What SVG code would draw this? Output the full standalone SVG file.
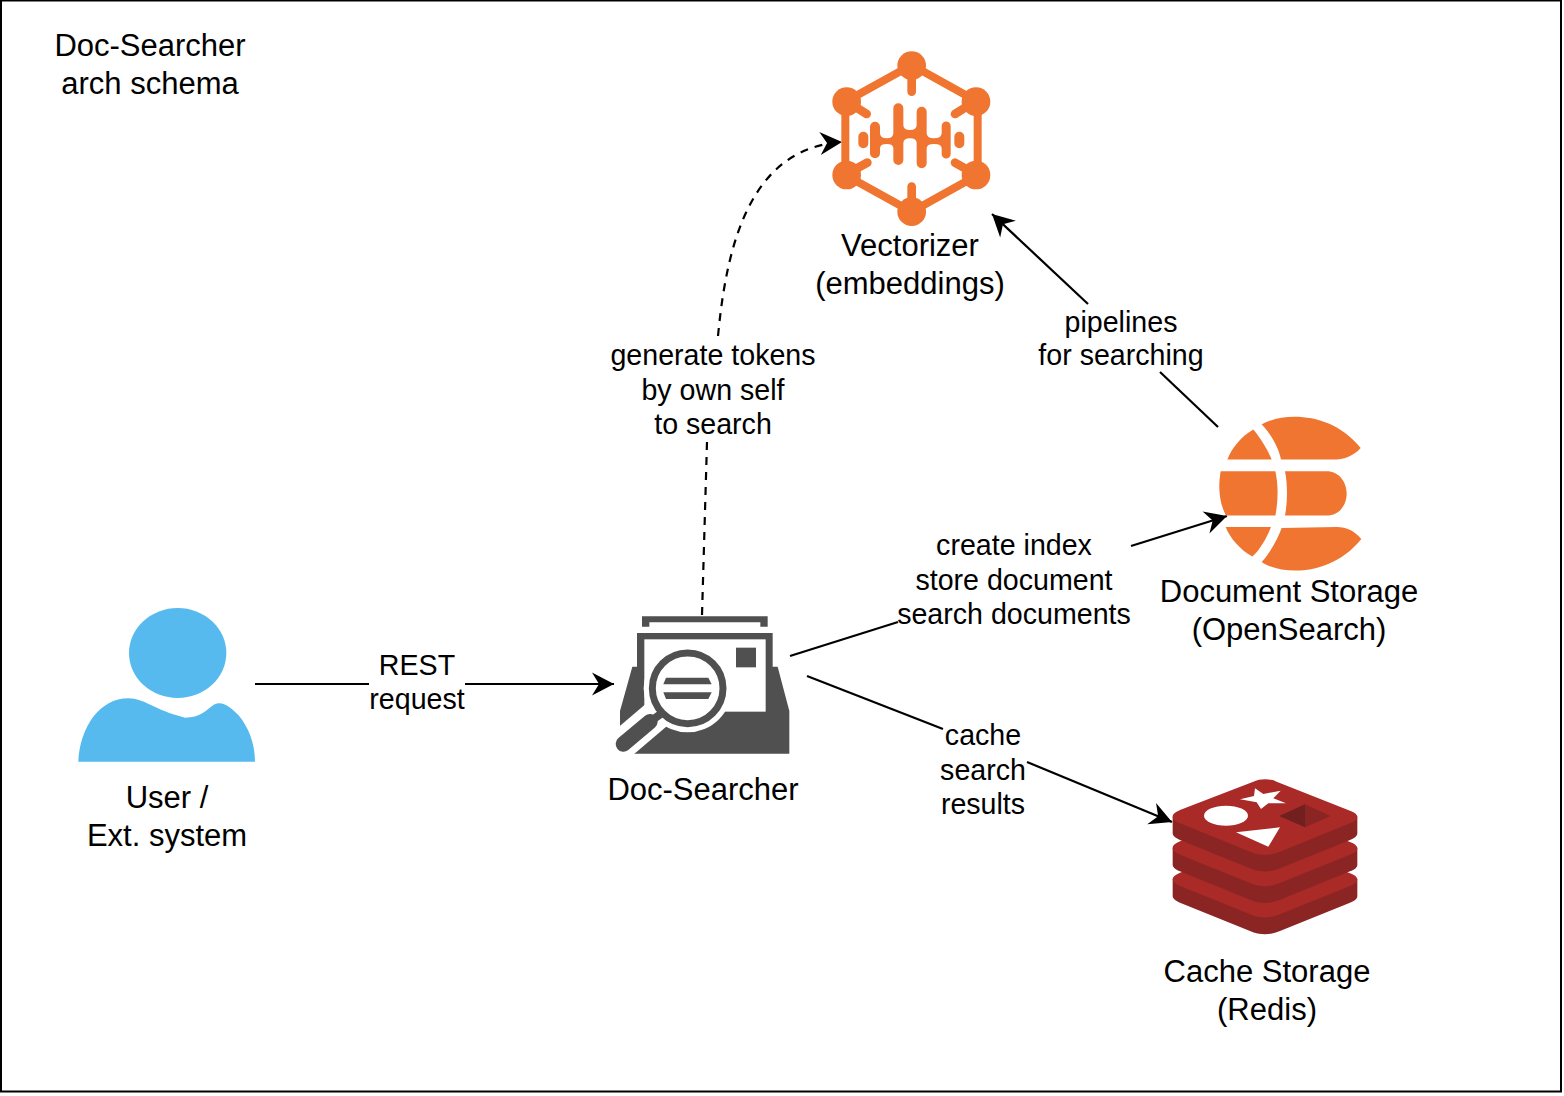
<svg xmlns="http://www.w3.org/2000/svg" xmlns:xlink="http://www.w3.org/1999/xlink" width="1564" height="1096" viewBox="0 0 1564 1096">
<style>
text{font-family:"Liberation Sans",Arial,sans-serif;fill:#000;text-anchor:middle}
.n{font-size:31px}
.e{font-size:28.6px}
.c{fill:none;stroke:#000;stroke-width:2.2}
.d{stroke-dasharray:8 7}
.o{fill:#F07530}
.os{fill:none;stroke:#F07530;stroke-linecap:round}
.g{fill:#505050}
.w{fill:#fff}
</style>
<defs>
<marker id="arrow" markerUnits="userSpaceOnUse" markerWidth="26" markerHeight="26" viewBox="0 0 26 26" refX="23" refY="13" orient="auto">
<path d="M1,1.5 L23,13 L1,24.5 L8,13 Z" fill="#000"/>
</marker>
<g id="layer">
<path d="M38,140 L38,190 C38,198 48,205 60,210 L270,295 C300,308 330,308 360,295 L570,210 C584,205 592,198 592,190 L592,140 Z" fill="#8A2524"/>
<path d="M38,140 C38,130 50,125 60,120 L280,35 C300,25 330,25 350,35 L570,122 C586,128 592,135 592,140 C592,150 582,155 570,160 L360,245 C330,258 300,258 270,245 L60,160 C48,155 38,148 38,140 Z" fill="#A92A27"/>
</g>
</defs>
<rect x="1" y="0.5" width="1560" height="1091" fill="#fff" stroke="#000" stroke-width="2"/>
<text class="n" x="150" y="56">Doc-Searcher</text>
<text class="n" x="150" y="94">arch schema</text>
<g id="connectors">
<path class="c" d="M255,684 L369,684"/>
<path class="c" d="M465,684 L614,684" marker-end="url(#arrow)"/>
<path class="c d" d="M702,615 L707,442"/>
<path class="c d" d="M718,336 C727,240 752,148 842,142" marker-end="url(#arrow)"/>
<path class="c" d="M790,656 L898,622"/>
<path class="c" d="M1131,546 L1227,516" marker-end="url(#arrow)"/>
<path class="c" d="M807,676 L943,729"/>
<path class="c" d="M1027,762 L1172,822" marker-end="url(#arrow)"/>
<path class="c" d="M1218,427 L1160,372"/>
<path class="c" d="M1088,304 L992,214" marker-end="url(#arrow)"/>
<text class="e" x="417" y="674.7">REST</text>
<text class="e" x="417" y="708.7">request</text>
<text class="e" x="713" y="364.7">generate tokens</text>
<text class="e" x="713" y="399.7">by own self</text>
<text class="e" x="713" y="433.7">to search</text>
<text class="e" x="1014" y="554.7">create index</text>
<text class="e" x="1014" y="589.7">store document</text>
<text class="e" x="1014" y="623.7">search documents</text>
<text class="e" x="983" y="744.7">cache</text>
<text class="e" x="983" y="779.7">search</text>
<text class="e" x="983" y="813.7">results</text>
<text class="e" x="1121" y="331.7">pipelines</text>
<text class="e" x="1121" y="364.7">for searching</text>
</g>
<g id="user">
<g transform="translate(70,600) scale(.33333)" fill="#56BAEE">
<ellipse cx="323" cy="159" rx="146" ry="135"/>
<path d="M25,485 C30,380 90,295 175,295 C225,295 250,330 345,353 C390,353 410,330 430,315 C455,300 480,320 505,345 C535,380 555,430 555,485 Z"/>
</g>
<text class="n" x="167" y="808">User /</text>
<text class="n" x="167" y="846">Ext. system</text>
</g>
<g id="doc-searcher">
<g transform="translate(600,605) scale(.33333)">
<path class="g" d="M126,34 H503 V65 H481 V52 H148 V65 H126 Z"/>
<path class="g" d="M111,84 H518 V185 H533 L568,318 V446 H60 V318 L97,185 H111 Z"/>
<rect class="w" x="133" y="103" width="364" height="217"/>
<path d="M263,250 L40,440" stroke="#fff" stroke-width="92" fill="none"/>
<circle class="w" cx="263" cy="250" r="132"/>
<circle cx="263" cy="250" r="106" fill="#fff" stroke="#505050" stroke-width="21"/>
<rect class="g" x="408" y="128" width="60" height="59"/>
<path class="g" d="M198,218 H325 L335,238 H190 Z"/>
<path class="g" d="M190,262 H335 L325,282 H198 Z"/>
<path d="M185,325 L150,350" stroke="#505050" stroke-width="24" fill="none"/>
<path d="M150,350 L70,417" stroke="#505050" stroke-width="46" stroke-linecap="round" fill="none"/>
</g>
<text class="n" x="703" y="800">Doc-Searcher</text>
</g>
<g id="vectorizer">
<g transform="translate(820,40) scale(.33333)">
<path class="os" stroke-width="24" stroke-linejoin="round" d="M275,75 L473,185 V405 L275,515 L76,405 V185 Z"/>
<g class="o">
<circle cx="275" cy="77" r="43"/><circle cx="80" cy="185" r="43"/><circle cx="468" cy="185" r="43"/>
<circle cx="80" cy="405" r="43"/><circle cx="468" cy="405" r="43"/><circle cx="275" cy="515" r="43"/>
</g>
<path class="os" stroke-width="26" d="M275,100 V155 M105,200 L140,222 M440,200 L405,222 M105,388 L142,368 M440,388 L405,368 M275,490 V440"/>
<path class="o" d="M115,290 a15,15 0 0 1 30,0 V310 a15,15 0 0 1 -30,0 Z M403,290 a15,15 0 0 1 30,0 V310 a15,15 0 0 1 -30,0 Z"/>
<path class="o" d="M150,260 a15,15 0 0 1 30,0 V280 Q180,295 200,295 Q220,295 220,280 V205 a15,15 0 0 1 30,0 V255 Q250,270 270,270 Q290,270 290,255 V215 a15,15 0 0 1 30,0 V280 Q320,295 342,295 Q365,295 365,280 V258 a13.5,13.5 0 0 1 27,0 V342 a13.5,13.5 0 0 1 -27,0 V325 Q365,312 342,312 Q320,312 320,325 V370 a15,15 0 0 1 -30,0 V310 Q290,295 270,295 Q250,295 250,310 V360 a15,15 0 0 1 -30,0 V325 Q220,312 200,312 Q180,312 180,325 V340 a15,15 0 0 1 -30,0 Z"/>
</g>
<text class="n" x="910" y="256">Vectorizer</text>
<text class="n" x="910" y="294">(embeddings)</text>
</g>
<g id="opensearch">
<g class="o" transform="translate(1200,404.6) scale(.33333)">
<path d="M185,60 C240,25 390,15 482,130 C460,155 430,165 400,165 L243,165 C235,125 210,85 185,60 Z"/>
<path d="M160,75 C185,105 205,140 215,165 L82,165 C95,130 125,95 160,75 Z"/>
<path d="M62,200 L226,200 C235,240 235,290 226,333 L78,333 C55,290 55,240 62,200 Z"/>
<path d="M255,200 L380,200 C415,200 440,230 440,267 C440,305 415,333 380,333 L255,333 C263,290 263,240 255,200 Z"/>
<path d="M77,367 L213,367 C200,400 180,435 157,456 C120,435 90,400 77,367 Z"/>
<path d="M245,370 L410,367 C440,367 465,380 484,403 C390,520 240,510 185,472 C210,445 232,405 245,370 Z"/>
</g>
<text class="n" x="1289" y="602">Document Storage</text>
<text class="n" x="1289" y="640">(OpenSearch)</text>
</g>
<g id="redis">
<g transform="translate(1160,770) scale(.33333)">
<use xlink:href="#layer" href="#layer" y="188"/>
<use xlink:href="#layer" href="#layer" y="94"/>
<use xlink:href="#layer" href="#layer"/>
<ellipse class="w" cx="198" cy="137" rx="66" ry="30"/>
<path class="w" d="M285,55 L310,72 L362,62 L340,85 L378,100 L325,100 L303,117 L290,97 L240,88 L282,78 Z"/>
<path class="w" d="M228,187 L360,172 L325,230 Z"/>
<path d="M358,138 L435,103 V172 Z" fill="#71201F"/>
<path d="M435,103 L512,138 L435,172 Z" fill="#8A2524"/>
</g>
<text class="n" x="1267" y="982">Cache Storage</text>
<text class="n" x="1267" y="1020">(Redis)</text>
</g>
</svg>
